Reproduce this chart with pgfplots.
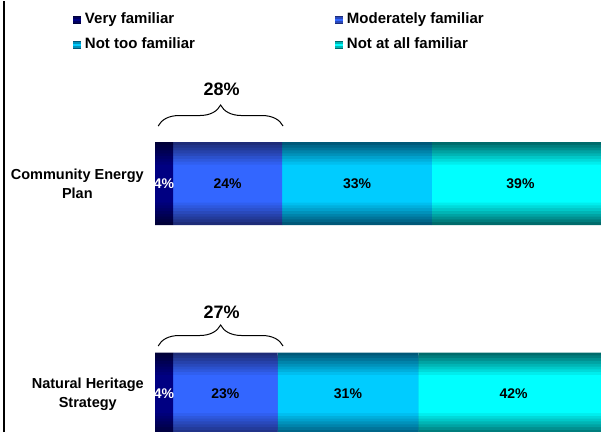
\documentclass[border=0pt]{standalone}
\usepackage{pgfplots}
\usepackage{pgfplotstable}
\pgfplotsset{compat=1.18}
\usepackage{fontspec}
\setmainfont{Liberation Sans}
\usetikzlibrary{decorations.pathreplacing}

% edge (dark) and centre (bright) colours of each category
\definecolor{vfD}{HTML}{000038}
\definecolor{vfB}{HTML}{000082}
\definecolor{mfD}{HTML}{1E2C78}
\definecolor{mfB}{HTML}{3366FF}
\definecolor{ntD}{HTML}{005878}
\definecolor{ntB}{HTML}{00CCFF}
\definecolor{naD}{HTML}{006B6B}
\definecolor{naB}{HTML}{00FFFF}

% familiarity shares (%), pos 1 = Community Energy Plan, pos 0 = Natural Heritage Strategy
\pgfplotstableread{
pos vf mf nt na
1   4  24 33 39
0   4  23 31 42
}\familiarity

\tikzset{
  vlab/.style={font=\fontsize{14bp}{16bp}\selectfont\bfseries},
  blab/.style={font=\fontsize{18bp}{20bp}\selectfont\bfseries},
}
\pgfplotsset{
  frame/.style={
    at={(155bp,0bp)}, anchor=south west,
    scale only axis,
    width=446bp, height=431bp,
    xmin=0, xmax=98.24,
    ymin=-0.1805, ymax=1.867,
  },
  base/.style={frame, xbar stacked},
  % small legend swatch, dark rim and bright core
  swatch/.style n args={2}{legend image code/.code={
    \fill[#1] (0bp,-4bp) rectangle (8bp,4bp);
    \fill[#2!50!#1] (0bp,-2.8bp) rectangle (8bp,2.8bp);
    \fill[#2] (0bp,-1.4bp) rectangle (8bp,1.4bp);}},
}

\begin{document}
\begin{tikzpicture}
\path (0,0) rectangle (601bp,431bp);
% frame line on the left
\draw[line width=2bp] (4bp,0) -- (4bp,431bp);

% nested bar layers: wide dark rim to narrow bright core
\foreach \w/\m in {83/0, 77.4/13, 71.8/25, 66.1/38, 60.5/50, 54.9/63, 49.3/75, 43.6/88} {
  \begin{axis}[base, hide axis, bar width=\w bp]
    \addplot[draw=none, fill=vfB!\m!vfD] table[x=vf, y=pos] {\familiarity};
    \addplot[draw=none, fill=mfB!\m!mfD] table[x=mf, y=pos] {\familiarity};
    \addplot[draw=none, fill=ntB!\m!ntD] table[x=nt, y=pos] {\familiarity};
    \addplot[draw=none, fill=naB!\m!naD] table[x=na, y=pos] {\familiarity};
  \end{axis}
}

\begin{axis}[
  base, bar width=38bp,
  axis line style={draw=none},
  tick style={draw=none},
  xtick=\empty,
  ytick={0,1},
  yticklabels={Natural Heritage\\Strategy, Community Energy\\Plan},
  yticklabel style={align=center, anchor=east, inner sep=0pt, xshift=-11bp,
    font=\fontsize{14.5bp}{19bp}\selectfont\bfseries},
  legend columns=2,
  legend cell align=left,
  legend style={at={(axis description cs:-0.1839,0.9722)}, anchor=north west,
    draw=none, fill=none, inner sep=0pt, outer sep=0pt, row sep=11bp,
    font=\fontsize{15bp}{18bp}\selectfont\bfseries,
    nodes={inner xsep=4bp, inner ysep=0pt, text height=11bp, text depth=3bp},
    /tikz/every even column/.append style={column sep=136bp}},
]
\addplot[draw=none, fill=vfB, swatch={vfD}{vfB}] table[x=vf, y=pos] {\familiarity};
\addplot[draw=none, fill=mfB, swatch={mfD}{mfB}] table[x=mf, y=pos] {\familiarity};
\addplot[draw=none, fill=ntB, swatch={ntD}{ntB}] table[x=nt, y=pos] {\familiarity};
\addplot[draw=none, fill=naB, swatch={naD}{naB}] table[x=na, y=pos] {\familiarity};
\legend{Very familiar, Moderately familiar, Not too familiar, Not at all familiar}
\end{axis}

% annotations on top of the bars
\begin{axis}[frame, hide axis]
% segment labels at the middle of each segment
\node[vlab, white] at (axis cs:2,1) {4\%};
\node[vlab] at (axis cs:16,1) {24\%};
\node[vlab] at (axis cs:44.5,1) {33\%};
\node[vlab] at (axis cs:80.5,1) {39\%};
\node[vlab, white] at (axis cs:2,0) {4\%};
\node[vlab] at (axis cs:15.5,0) {23\%};
\node[vlab] at (axis cs:42.5,0) {31\%};
\node[vlab] at (axis cs:79,0) {42\%};

% braces grouping the familiar shares
\draw[decorate, decoration={brace, amplitude=21bp}, line width=1bp]
  (axis cs:0.7,1.273) -- (axis cs:28.2,1.273);
\node[blab] at (axis cs:14.7,1.449) {28\%};
\draw[decorate, decoration={brace, amplitude=21bp}, line width=1bp]
  (axis cs:0.7,0.228) -- (axis cs:28.2,0.228);
\node[blab] at (axis cs:14.7,0.3895) {27\%};
\end{axis}
\end{tikzpicture}
\end{document}
